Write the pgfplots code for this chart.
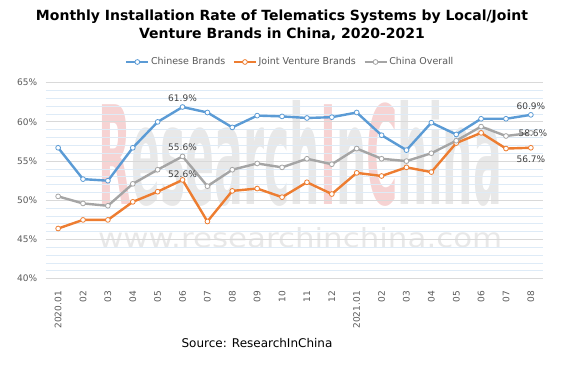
\documentclass[border=0pt]{standalone}
\usepackage{pgfplots}
\pgfplotsset{compat=1.18}
\usepackage{fontspec}
\setmainfont{DejaVu Sans}
\definecolor{cb}{HTML}{5B9BD5}
\definecolor{jv}{HTML}{ED7D31}
\definecolor{co}{HTML}{A5A5A5}
\definecolor{txt}{HTML}{595959}
\definecolor{lbl}{HTML}{404040}
\definecolor{gmaj}{HTML}{D9D9D9}
\definecolor{gmin}{HTML}{DEEBF7}
\definecolor{wmr}{HTML}{F6D3D3}
\definecolor{wmg}{HTML}{E8E8E8}
\begin{document}
\begin{tikzpicture}[x=1pt,y=1pt]
\path[use as bounding box] (0,0) rectangle (564,364);
% title
\node[font=\bfseries\fontsize{14}{18}\selectfont, align=center] at (282,339)
  {Monthly Installation Rate of Telematics Systems by Local/Joint\\Venture Brands in China, 2020-2021};
% source
\node[font=\fontsize{12}{14}\selectfont] at (257,21) {Source: ResearchInChina};
% watermark
\node[anchor=south west, inner sep=0pt] at (98,157)
  {\resizebox{404pt}{104pt}{\bfseries\textcolor{wmr}{R}\textcolor{wmg}{esearch}\textcolor{wmr}{I}\textcolor{wmg}{n}\textcolor{wmr}{C}\textcolor{wmg}{hina}}};
\node[anchor=south west, inner sep=0pt] at (98,116)
  {\resizebox{404pt}{20pt}{\textcolor{wmg}{www.researchinchina.com}}};
\begin{axis}[
  at={(45.7pt,85.3pt)}, anchor=south west,
  scale only axis, width=497.6pt, height=196pt,
  xmin=-0.5, xmax=19.5, ymin=40, ymax=65,
  xtick={0,...,19},
  xticklabels={2020.01,02,03,04,05,06,07,08,09,10,11,12,2021.01,02,03,04,05,06,07,08},
  ytick={40,45,50,55,60,65},
  minor y tick num=4,
  yticklabel={\pgfmathprintnumber{\tick}\%},
  ymajorgrids, yminorgrids,
  major grid style={draw=gmaj, line width=0.8pt},
  minor grid style={draw=gmin, line width=0.8pt},
  axis line style={draw=none},
  major tick length=0pt, minor tick length=0pt,
  tick style={draw=none},
  ticklabel style={font=\fontsize{9}{10}\selectfont, text=txt},
  xticklabel style={rotate=90, anchor=east},
  xticklabel shift=9pt,
  yticklabel style={xshift=-5pt},
  /pgf/number format/assume math mode=true,
  legend style={at={(0.5,1)}, anchor=center, yshift=20.7pt, xshift=-4.5pt,
    draw=none, fill=none, legend columns=3,
    font=\fontsize{9.5}{11}\selectfont, text=txt,
    /tikz/every even column/.append style={column sep=6pt},
    nodes={inner sep=1.5pt}},
  legend image code/.code={\draw[mark repeat=2,mark phase=2] plot coordinates {(0pt,0pt)(11pt,0pt)(22pt,0pt)};},
  every axis plot/.append style={line width=2.4pt, mark=*, mark size=2.4pt},
  clip=false,
]
\addplot[cb, mark options={fill=white, draw=cb, line width=0.8pt}] coordinates {
(0,56.7)(1,52.7)(2,52.5)(3,56.7)(4,60.0)(5,61.9)(6,61.2)(7,59.3)(8,60.8)(9,60.7)
(10,60.5)(11,60.6)(12,61.2)(13,58.3)(14,56.4)(15,59.9)(16,58.4)(17,60.4)(18,60.4)(19,60.9)};
\addlegendentry{Chinese Brands}
\addplot[jv, mark options={fill=white, draw=jv, line width=0.8pt}] coordinates {
(0,46.4)(1,47.5)(2,47.5)(3,49.8)(4,51.1)(5,52.6)(6,47.3)(7,51.2)(8,51.5)(9,50.4)
(10,52.3)(11,50.8)(12,53.5)(13,53.1)(14,54.2)(15,53.6)(16,57.3)(17,58.6)(18,56.6)(19,56.7)};
\addlegendentry{Joint Venture Brands}
\addplot[co, mark options={fill=white, draw=co, line width=0.8pt}] coordinates {
(0,50.5)(1,49.6)(2,49.3)(3,52.1)(4,53.9)(5,55.6)(6,51.8)(7,53.9)(8,54.7)(9,54.2)
(10,55.3)(11,54.6)(12,56.6)(13,55.3)(14,55.0)(15,56.0)(16,57.6)(17,59.4)(18,58.2)(19,58.6)};
\addlegendentry{China Overall}
\begin{scope}[every node/.style={font=\fontsize{9}{11}\selectfont, text=lbl}]
\node at (axis cs:5,61.9) [yshift=9pt] {61.9\%};
\node at (axis cs:5,55.6) [yshift=9pt] {55.6\%};
\node at (axis cs:5,52.6) [yshift=6pt] {52.6\%};
\node at (axis cs:19,60.9) [yshift=9pt] {60.9\%};
\node at (axis cs:19,58.6) [xshift=2pt] {58.6\%};
\node at (axis cs:19,56.7) [yshift=-11pt] {56.7\%};
\end{scope}
\end{axis}
\end{tikzpicture}
\end{document}
